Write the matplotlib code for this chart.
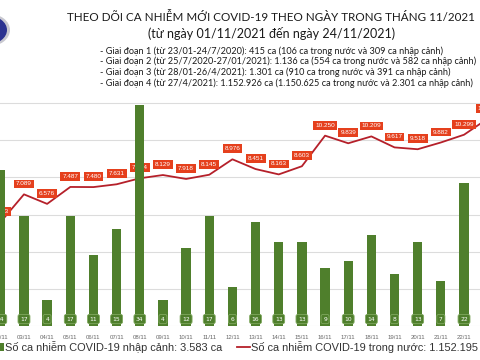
import numpy as np
import matplotlib.pyplot as plt
from matplotlib.patches import Rectangle, Circle
from matplotlib.lines import Line2D

# Data
DAYS = ["02/11", "03/11", "04/11", "05/11", "06/11", "07/11", "08/11", "09/11",
        "10/11", "11/11", "12/11", "13/11", "14/11", "15/11", "16/11", "17/11",
        "18/11", "19/11", "20/11", "21/11", "22/11", "23/11"]
IMPORTED = [24, 17, 4, 17, 11, 15, 34, 4, 12, 17, 6, 16, 13, 13, 9, 10, 14, 8,
            13, 7, 22]
DOMESTIC = [5613, 7089, 6576, 7487, 7480, 7631, 7954, 8129, 7918, 8145, 8976,
            8451, 8163, 8603, 10250, 9839, 10209, 9617, 9518, 9882, 10299, 11145]

TITLE = "THEO DÕI CA NHIỄM MỚI COVID-19 THEO NGÀY TRONG THÁNG 11/2021"
SUBTITLE = "(từ ngày 01/11/2021 đến ngày 24/11/2021)"
NOTES = [
    "- Giai đoạn 1 (từ 23/01-24/7/2020): 415 ca (106 ca trong nước và 309 ca nhập cảnh)",
    "- Giai đoạn 2 (từ 25/7/2020-27/01/2021): 1.136 ca (554 ca trong nước và 582 ca nhập cảnh)",
    "- Giai đoạn 3 (từ 28/01-26/4/2021): 1.301 ca (910 ca trong nước và 391 ca nhập cảnh)",
    "- Giai đoạn 4 (từ 27/4/2021): 1.152.926 ca (1.150.625 ca trong nước và 2.301 ca nhập cảnh)",
]
LEGEND_BARS = "Số ca nhiễm COVID-19 nhập cảnh: 3.583 ca"
LEGEND_LINE = "Số ca nhiễm COVID-19 trong nước: 1.152.195 ca"

GREEN = "#4f7f2c"
RED_LINE = "#b5202a"
RED_BOX = "#e5401d"

W, H = 480, 360


def fx(px):
    return px / W


def fy(py):
    return 1 - py / H


fig = plt.figure(figsize=(4.8, 3.6), dpi=100)
fig.patch.set_facecolor("white")

# plot area: baseline at y=326 px, top at y=66 px
ax = fig.add_axes([0, fy(326), 1, (326 - 66) / H])
ax2 = ax.twinx()

x = np.arange(len(DAYS))
nb = len(IMPORTED)
ax.bar(x[:nb], IMPORTED, width=0.4, color=GREEN, zorder=3)
ax.set_ylim(0, 40)
ax.set_xlim(-0.035, 20.69)

ax2.plot(x, DOMESTIC, color=RED_LINE, lw=1.3, zorder=4)
ax2.set_ylim(0, 14000)
ax2.set_yticks(np.arange(0, 12001, 2000))
ax2.grid(axis="y", color="#dcdcdc", lw=0.8)
ax2.set_axisbelow(True)
ax.set_zorder(ax2.get_zorder() + 1)
ax.patch.set_visible(False)

for a in (ax, ax2):
    for s in a.spines.values():
        s.set_visible(False)
    a.tick_params(left=False, right=False, labelleft=False, labelright=False,
                  bottom=False)
ax.set_xticks(x[:nb])
ax.set_xticklabels(DAYS[:nb], fontsize=4.3, color="#666666", family="Liberation Sans")
ax.tick_params(axis="x", pad=3)

# value labels on bars
for xi, v in zip(x, IMPORTED):
    ax.annotate(str(v), (xi, 0), xytext=(0, 5), textcoords="offset points",
                ha="center", va="center", fontsize=4.3, color="white",
                bbox=dict(boxstyle="round,pad=0.35,rounding_size=0.3",
                          fc=GREEN, ec="#7fa85e", lw=0.6), zorder=5)

# value labels on line
for xi, v in zip(x, DOMESTIC):
    ax2.annotate(f"{v:,}".replace(",", "."), (xi, v), xytext=(0, 7.5),
                 textcoords="offset points", ha="center", va="center",
                 fontsize=4.6, color="white", family="Liberation Sans",
                 bbox=dict(boxstyle="square,pad=0.3", fc=RED_BOX, ec="none"),
                 annotation_clip=False, zorder=6)

# header texts
fig.text(fx(271), fy(17), TITLE, ha="center", va="center", fontsize=8.4,
         color="#1a1a1a", family="Lato")
fig.text(fx(272), fy(33), SUBTITLE, ha="center", va="center", fontsize=9.0,
         color="#1a1a1a", family="Lato")
for i, note in enumerate(NOTES):
    fig.text(fx(100), fy(51 + i * 10.7), note, ha="left", va="center",
             fontsize=6.6, color="#1a1a1a", family="Lato")

# logo fragment
fig.patches.append(Circle((fx(-12), fy(30)), 22 / W, transform=fig.transFigure,
                          fc="#c8c8d0", ec="none"))
fig.patches.append(Circle((fx(-12), fy(30)), 19 / W, transform=fig.transFigure,
                          fc="#2a3190", ec="none"))

# legend
fig.patches.append(Rectangle((fx(0), fy(351)), 4 / W, 8 / H,
                             transform=fig.transFigure, fc=GREEN, ec="none"))
fig.text(fx(5), fy(347), LEGEND_BARS, ha="left", va="center", fontsize=7.9,
         color="#333333", family="Liberation Sans")
fig.lines.append(Line2D([fx(237), fx(250)], [fy(347), fy(347)],
                        transform=fig.transFigure, color=RED_LINE, lw=1.3))
fig.text(fx(251), fy(347), LEGEND_LINE, ha="left", va="center", fontsize=7.9,
         color="#333333", family="Liberation Sans")

fig.savefig("out.png", dpi=100)
